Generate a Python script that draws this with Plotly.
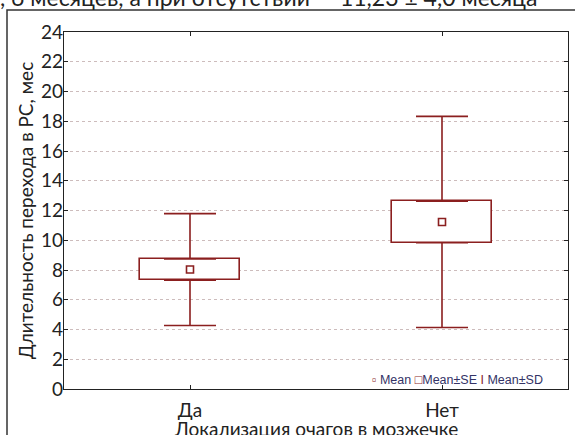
import plotly.graph_objects as go

categories = ["Да", "Нет"]
means = [8.03, 11.23]
se = [0.71, 1.40]
sd = [3.76, 7.10]
y_ticks = [0, 2, 4, 6, 8, 10, 12, 14, 16, 18, 20, 22, 24]

RED = "#8b1f1f"
FONT = "Lato"

W, H = 575, 435
L, R, T, B = 64, 7, 32, 46
pw, ph = W - L - R, H - T - B

def px_x(p):
    return (p - L) / pw

def px_y(p):
    return (H - B - p) / ph

fig = go.Figure()

# Mean ± SE box
fig.add_trace(go.Bar(
    x=categories,
    y=[2 * s for s in se],
    base=[m - s for m, s in zip(means, se)],
    width=0.4,
    marker=dict(color="white", line=dict(color=RED, width=1.6)),
    showlegend=False, hoverinfo="skip",
))

# Upper whisker (SE edge to SD)
fig.add_trace(go.Scatter(
    x=categories,
    y=[m + s for m, s in zip(means, se)],
    mode="markers", marker=dict(size=0.1, color="rgba(0,0,0,0)"),
    error_y=dict(type="data", symmetric=False,
                 array=[d - s for d, s in zip(sd, se)],
                 arrayminus=[0, 0], color=RED, thickness=1.6, width=26),
    showlegend=False, hoverinfo="skip",
))
# Lower whisker
fig.add_trace(go.Scatter(
    x=categories,
    y=[m - s for m, s in zip(means, se)],
    mode="markers", marker=dict(size=0.1, color="rgba(0,0,0,0)"),
    error_y=dict(type="data", symmetric=False,
                 array=[0, 0],
                 arrayminus=[d - s for d, s in zip(sd, se)],
                 color=RED, thickness=1.6, width=26),
    showlegend=False, hoverinfo="skip",
))
# Mean marker
fig.add_trace(go.Scatter(
    x=categories, y=means, mode="markers",
    marker=dict(symbol="square-open", size=7, color=RED, line=dict(width=1.6)),
    showlegend=False,
))

fig.update_layout(
    width=W, height=H,
    margin=dict(l=L, r=R, t=T, b=B, autoexpand=False),
    paper_bgcolor="white", plot_bgcolor="white",
    font=dict(family=FONT, color="#222222", size=19),
    bargap=0,
)

fig.update_xaxes(
    range=[-0.5, 1.5], automargin=False,
    showline=True, linecolor="#222222", linewidth=1.2, mirror="ticks",
    ticks="inside", ticklen=4, tickcolor="#222222",
    showgrid=False,
    tickfont=dict(size=19, family=FONT),
    ticklabelstandoff=4,
)
fig.update_yaxes(
    range=[0, 24], automargin=False,
    tickvals=y_ticks,
    showline=True, linecolor="#222222", linewidth=1.2, mirror="ticks",
    ticks="inside", ticklen=4, tickcolor="#222222",
    showgrid=True, gridcolor="#cdbcbc", griddash="dot", gridwidth=1,
    zeroline=False,
    tickfont=dict(size=19, family=FONT),
    ticklabelstandoff=-4,
    title=dict(text="Длительность перехода в РС, мес", font=dict(size=19, family=FONT), standoff=2),
)

# X axis title (sits tight under the tick labels, as in the reference)
fig.add_annotation(xref="paper", yref="paper", x=0.5, y=px_y(415),
                   xanchor="center", yanchor="top", showarrow=False,
                   text="Локализация очагов в мозжечке",
                   font=dict(size=19, family=FONT, color="#222222"))

# Outer frame
fig.add_shape(type="rect", xref="paper", yref="paper",
              x0=px_x(7), x1=px_x(590), y0=px_y(450), y1=px_y(10),
              line=dict(color="#333333", width=1.5), layer="below")

# Legend text (statistica-style)
fig.add_annotation(xref="paper", yref="paper", x=px_x(545), y=px_y(380),
                   xanchor="right", yanchor="middle", showarrow=False,
                   text="<span style='color:#8b1f1f'>▫</span> Mean <span style='color:#8b1f1f'>□</span>Mean±SE <span style='color:#8b1f1f'>I</span> Mean±SD",
                   font=dict(size=12.5, family="Liberation Sans Narrow, Liberation Sans", color="#333366"))

# Cut-off sentence at the top
fig.add_annotation(xref="paper", yref="paper", x=px_x(-2), y=px_y(13),
                   xanchor="left", yanchor="bottom", showarrow=False,
                   text=", 6 месяцев, а при отсутствии — 11,23 ± 4,0 месяца",
                   font=dict(size=23, family=FONT, color="#222222"))

fig.write_html("out.html", config={"displayModeBar": False},
               post_script="document.body.style.margin='0px';document.body.style.overflow='hidden';")
